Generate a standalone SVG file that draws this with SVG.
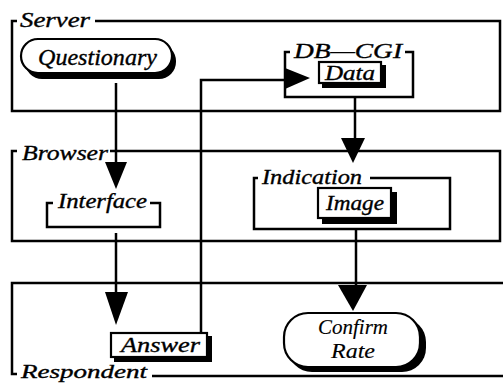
<svg xmlns="http://www.w3.org/2000/svg" width="503" height="383" viewBox="0 0 503 383">
<style>
.fr{fill:none;stroke:#000;stroke-width:2.5}
.ln{fill:none;stroke:#000;stroke-width:2.5}
.ah{fill:#000}
.t{font-family:"Liberation Serif",serif;font-style:italic;fill:#000;stroke:#000;stroke-width:0.35}
.sh{fill:#000}
.bx{fill:#fff;stroke:#000;stroke-width:2.2}
</style>
<rect width="503" height="383" fill="#fff"/>
<g id="server">
<path class="fr" d="M17,21 H12 V111 H500 V21 H95"/>
<text class="t" x="20" y="27" font-size="21" textLength="70" lengthAdjust="spacingAndGlyphs">Server</text>
</g>
<g id="browser">
<path class="fr" d="M17,151 H12 V241 H500 V151 H110"/>
<text class="t" x="22" y="160" font-size="21" textLength="86" lengthAdjust="spacingAndGlyphs">Browser</text>
</g>
<g id="respondent">
<path class="fr" d="M503,283 H12 V374 H17 M152,376 H503"/>
<text class="t" x="21" y="378" font-size="19" textLength="126" lengthAdjust="spacingAndGlyphs">Respondent</text>
</g>
<g id="interface">
<path class="fr" d="M53,203 H47 V227 H160 V203 H150"/>
<text class="t" x="58" y="208" font-size="20" textLength="89" lengthAdjust="spacingAndGlyphs">Interface</text>
</g>
<g id="dbcgi">
<path class="fr" d="M290,52 H285 V97 H413 V52 H405"/>
<text class="t" x="294" y="58" font-size="20" textLength="108" lengthAdjust="spacingAndGlyphs">DB—CGI</text>
</g>
<g id="indication">
<path class="fr" d="M258,178 H254 V229 H450 V178 H370"/>
<text class="t" x="262" y="184" font-size="20" textLength="100" lengthAdjust="spacingAndGlyphs">Indication</text>
</g>
<g id="connectors">
<path class="ln" d="M116,83 V163"/>
<polygon class="ah" points="105,162 127,162 116,189"/>
<path class="ln" d="M116,233 V293"/>
<polygon class="ah" points="105,292 128,292 116,325"/>
<path class="ln" d="M201,332 V80 H290"/>
<polygon class="ah" points="285,68 285,89 310,78"/>
<path class="ln" d="M355,97 V139"/>
<polygon class="ah" points="341,138 365,138 353,163"/>
<path class="ln" d="M356,229 V286"/>
<polygon class="ah" points="338,285 367,285 353,311"/>
</g>
<g id="questionary">
<rect class="sh" x="25" y="44" width="151" height="35" rx="17"/>
<rect class="bx" x="21" y="39" width="151" height="34" rx="17"/>
<text class="t" x="38" y="65" font-size="23" textLength="119" lengthAdjust="spacingAndGlyphs">Questionary</text>
</g>
<g id="data">
<rect class="sh" x="322" y="65" width="64" height="23"/>
<rect class="bx" x="319" y="62" width="62" height="21"/>
<text class="t" x="325" y="80" font-size="20" textLength="50" lengthAdjust="spacingAndGlyphs">Data</text>
</g>
<g id="image">
<rect class="sh" x="322" y="192" width="75" height="32"/>
<rect class="bx" x="318" y="188" width="73" height="30"/>
<text class="t" x="326" y="210" font-size="21" textLength="58" lengthAdjust="spacingAndGlyphs">Image</text>
</g>
<g id="answer">
<rect class="sh" x="114" y="336" width="98" height="26"/>
<rect class="bx" x="111" y="333" width="96" height="24"/>
<text class="t" x="121" y="352" font-size="21" textLength="79" lengthAdjust="spacingAndGlyphs">Answer</text>
</g>
<g id="confirm">
<rect class="sh" x="288" y="318" width="138" height="54" rx="24"/>
<rect class="bx" x="284" y="313" width="136" height="54" rx="24"/>
<text class="t" x="318" y="334" font-size="22" textLength="70" lengthAdjust="spacingAndGlyphs" style="stroke-width:0.15">Confirm</text>
<text class="t" x="331" y="358" font-size="22" textLength="44" lengthAdjust="spacingAndGlyphs" style="stroke-width:0.15">Rate</text>
</g>
</svg>
